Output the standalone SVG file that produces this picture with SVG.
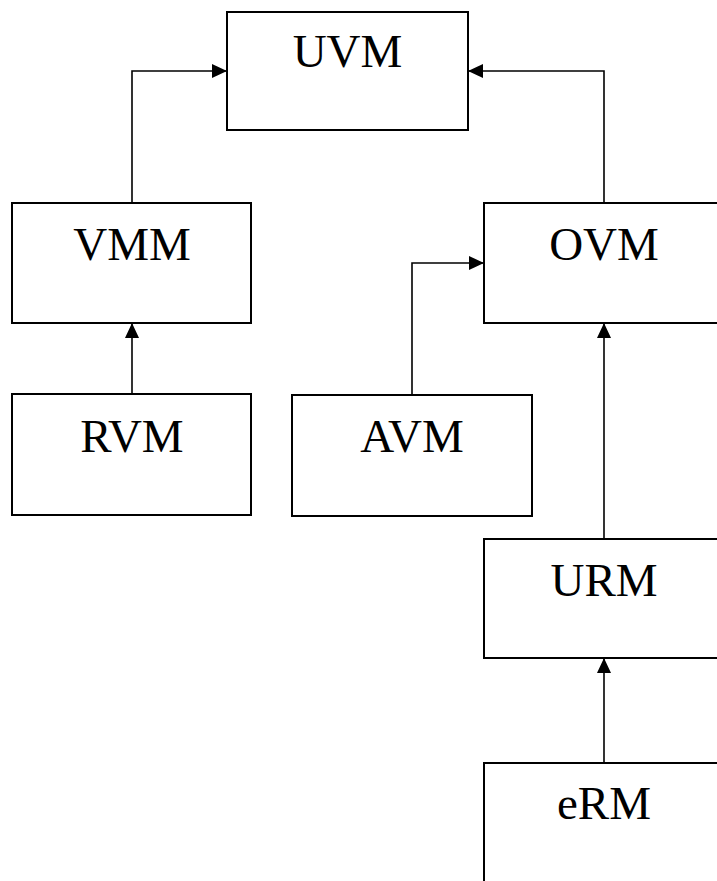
<svg xmlns="http://www.w3.org/2000/svg" width="717" height="881" viewBox="0 0 717 881">
  <style>
    .box { fill: #ffffff; stroke: #000000; stroke-width: 2; }
    .label { font-family: "Liberation Serif", "Times New Roman", serif; font-size: 47px; fill: #000000; text-anchor: middle; }
    .link { fill: none; stroke: #000000; stroke-width: 1.6; }
  </style>
  <defs>
    <marker id="arrow" viewBox="0 0 15 14" refX="15" refY="7" markerWidth="15" markerHeight="14" markerUnits="userSpaceOnUse" orient="auto">
      <path d="M0,0 L15,7 L0,14 Z" fill="#000000"/>
    </marker>
  </defs>
  <rect width="717" height="881" fill="#ffffff"/>

  <g id="connectors">
    <path class="link" d="M132,203 V71 H227" marker-end="url(#arrow)"/>
    <path class="link" d="M604,203 V71 H468" marker-end="url(#arrow)"/>
    <path class="link" d="M132,394 V323" marker-end="url(#arrow)"/>
    <path class="link" d="M412,395 V263 H484" marker-end="url(#arrow)"/>
    <path class="link" d="M604,539 V323" marker-end="url(#arrow)"/>
    <path class="link" d="M604,763 V658" marker-end="url(#arrow)"/>
  </g>

  <g id="uvm">
    <rect class="box" x="227" y="12" width="241" height="118"/>
    <text class="label" x="347.5" y="67">UVM</text>
  </g>
  <g id="vmm">
    <rect class="box" x="12" y="203" width="239" height="120"/>
    <text class="label" x="132" y="260">VMM</text>
  </g>
  <g id="ovm">
    <rect class="box" x="484" y="203" width="240" height="120"/>
    <text class="label" x="604" y="260">OVM</text>
  </g>
  <g id="rvm">
    <rect class="box" x="12" y="394" width="239" height="121"/>
    <text class="label" x="132" y="452">RVM</text>
  </g>
  <g id="avm">
    <rect class="box" x="292" y="395" width="240" height="121"/>
    <text class="label" x="412" y="452">AVM</text>
  </g>
  <g id="urm">
    <rect class="box" x="484" y="539" width="240" height="119"/>
    <text class="label" x="604" y="596">URM</text>
  </g>
  <g id="erm">
    <rect class="box" x="484" y="763" width="240" height="130"/>
    <text class="label" x="604" y="819">eRM</text>
  </g>
</svg>
